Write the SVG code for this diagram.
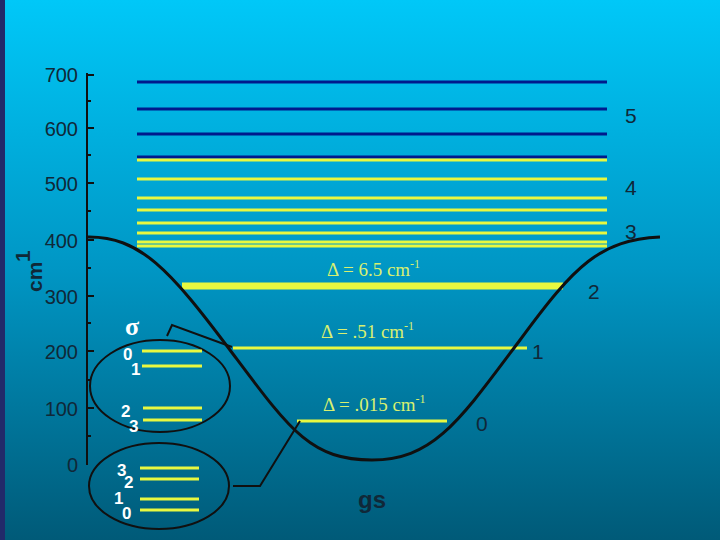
<svg xmlns="http://www.w3.org/2000/svg" width="720" height="540" viewBox="0 0 720 540">
<defs>
<linearGradient id="bg" x1="0" y1="0" x2="0" y2="1">
<stop offset="0" stop-color="#00c8f8"/><stop offset="0.5" stop-color="#0096c4"/><stop offset="1" stop-color="#005a78"/>
</linearGradient>
</defs>
<style>
.ax{font-family:"Liberation Sans",Arial,sans-serif;font-size:20px;fill:#102838;text-anchor:end}
.lv{font-family:"Liberation Sans",Arial,sans-serif;font-size:21px;fill:#102838}
.d{font-family:"Liberation Serif","Times New Roman",serif;font-size:19px;fill:#d8f070}
.w{font-family:"Liberation Sans",Arial,sans-serif;font-size:17px;font-weight:bold;fill:#ffffff}
.b{stroke:#001a8c;stroke-width:3}
.y{stroke:#e8f840;stroke-width:3}
.k{stroke:#101010;stroke-width:2;fill:none}
</style>
<rect width="720" height="540" fill="url(#bg)"/>
<rect width="5" height="540" fill="#222a6a"/>
<g id="axis">
<path class="k" d="M87 73V465 M87 75h7 M87 101h4 M87 128h7 M87 155h4 M87 183h7 M87 211h4 M87 240h7 M87 268h4 M87 296h7 M87 323h4 M87 351h7 M87 380h4 M87 408h7 M87 436h4"/>
<text class="ax" x="78" y="82">700</text><text class="ax" x="78" y="136">600</text><text class="ax" x="78" y="191">500</text><text class="ax" x="78" y="248">400</text><text class="ax" x="78" y="304">300</text><text class="ax" x="78" y="359">200</text><text class="ax" x="78" y="416">100</text><text class="ax" x="78" y="472">0</text>
<text class="lv" transform="translate(42,292) rotate(-90)" font-weight="bold">cm</text>
<text class="lv" transform="translate(30,262) rotate(-90)" font-size="15" font-weight="bold">1</text>
</g>
<g id="levels">
<line class="b" x1="137" x2="607" y1="82" y2="82"/><line class="b" x1="137" x2="607" y1="109" y2="109"/><line class="b" x1="137" x2="607" y1="134" y2="134"/><line class="b" x1="137" x2="607" y1="157" y2="157"/>
<line class="y" x1="137" x2="607" y1="160" y2="160"/><line class="y" x1="137" x2="607" y1="179" y2="179"/><line class="y" x1="137" x2="607" y1="198" y2="198"/><line class="y" x1="137" x2="607" y1="210" y2="210"/><line class="y" x1="137" x2="607" y1="223" y2="223"/><line class="y" x1="137" x2="607" y1="233" y2="233"/><line class="y" x1="137" x2="607" y1="242" y2="242"/><line class="y" x1="137" x2="607" y1="246" y2="246"/>
<line class="y" x1="182" x2="563" y1="286" y2="286" style="stroke-width:7"/>
<line class="y" x1="233" x2="527" y1="348" y2="348"/>
<line class="y" x1="297" x2="447" y1="421" y2="421"/>
<text class="lv" x="625" y="123">5</text><text class="lv" x="625" y="195">4</text><text class="lv" x="625" y="239">3</text><text class="lv" x="588" y="299">2</text><text class="lv" x="532" y="359">1</text><text class="lv" x="476" y="431">0</text>
<text class="lv" x="358" y="508" style="font-weight:bold;font-size:24px">gs</text>
</g>
<g id="curve">
<path class="k" style="stroke-width:3" d="M87 237C140 236 170 270 230 350C290 430 310 460 372 460C434 460 460 420 520 340C575 265 600 240 660 237"/>
</g>
<g id="deltas">
<text class="d" x="327" y="276">Δ = 6.5 cm<tspan font-size="12" dy="-8">-1</tspan></text>
<text class="d" x="321" y="338">Δ = .51 cm<tspan font-size="12" dy="-8">-1</tspan></text>
<text class="d" x="323" y="411">Δ = .015 cm<tspan font-size="12" dy="-8">-1</tspan></text>
</g>
<g id="sigma">
<ellipse class="k" cx="160" cy="386" rx="70" ry="46"/>
<text x="125" y="335" font-family="Liberation Serif,serif" font-size="26" fill="#ffffff" font-weight="bold">σ</text>
<line class="y" x1="142" x2="202" y1="351" y2="351"/><line class="y" x1="142" x2="202" y1="366" y2="366"/><line class="y" x1="143" x2="202" y1="408" y2="408"/><line class="y" x1="143" x2="202" y1="420" y2="420"/>
<text class="w" x="123" y="360">0</text><text class="w" x="131" y="375">1</text><text class="w" x="121" y="417">2</text><text class="w" x="129" y="432">3</text>
</g>
<g id="gs">
<ellipse class="k" cx="159" cy="486" rx="70" ry="43"/>
<line class="y" x1="140" x2="199" y1="468" y2="468"/><line class="y" x1="140" x2="199" y1="479" y2="479"/><line class="y" x1="140" x2="199" y1="499" y2="499"/><line class="y" x1="140" x2="199" y1="510" y2="510"/>
<text class="w" x="117" y="476">3</text><text class="w" x="124" y="488">2</text><text class="w" x="114" y="504">1</text><text class="w" x="122" y="519">0</text>
</g>
<g id="connectors">
<path class="k" d="M167 336L172 325L232 347"/>
<path class="k" d="M233 486H260L300 421"/>
</g>
</svg>
